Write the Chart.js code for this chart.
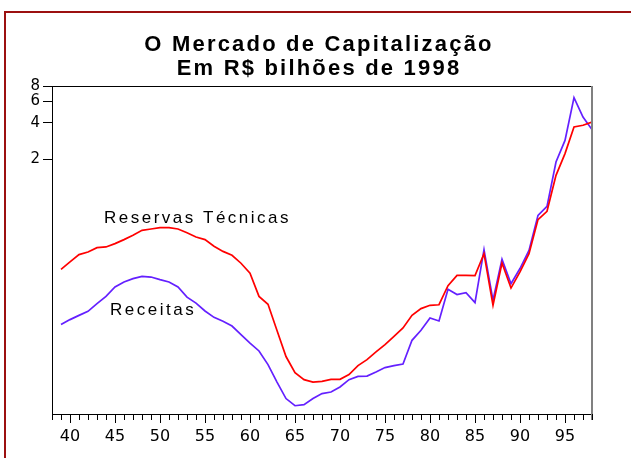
<!DOCTYPE html>
<html>
<head>
<meta charset="utf-8">
<script src="https://cdn.jsdelivr.net/npm/chart.js@4.4.1/dist/chart.umd.min.js"></script>
<style>
  html, body { margin: 0; padding: 0; background: #fff; }
  canvas { display: block; }
</style>
</head>
<body>
<canvas id="c" width="631" height="458"></canvas>
<script>
// data (years 1939-1998, R$ bilhões de 1998, log scale)
const years = [39, 40, 41, 42, 43, 44, 45, 46, 47, 48, 49, 50, 51, 52, 53, 54, 55, 56, 57, 58,
  59, 60, 61, 62, 63, 64, 65, 66, 67, 68, 69, 70, 71, 72, 73, 74, 75, 76, 77, 78,
  79, 80, 81, 82, 83, 84, 85, 86, 87, 88, 89, 90, 91, 92, 93, 94, 95, 96, 97, 98];
const reservas = [0.253, 0.291, 0.334, 0.351, 0.381, 0.386, 0.411, 0.443, 0.481, 0.528,
  0.541, 0.556, 0.556, 0.541, 0.505, 0.466, 0.443, 0.391, 0.355, 0.330,
  0.284, 0.235, 0.152, 0.131, 0.080, 0.049, 0.0362, 0.0317, 0.0303, 0.0307,
  0.0319, 0.0319, 0.0349, 0.0413, 0.0462, 0.0534, 0.0613, 0.0717, 0.0839, 0.1064,
  0.1208, 0.1286, 0.130, 0.186, 0.226, 0.226, 0.225, 0.340, 0.1286, 0.285,
  0.178, 0.241, 0.340, 0.646, 0.755, 1.487, 2.24, 3.70, 3.82, 4.06];
const receitas = [0.0894, 0.0982, 0.1064, 0.1149, 0.1328, 0.152, 0.1815, 0.1995, 0.2125, 0.222,
  0.219, 0.2086, 0.1995, 0.1815, 0.150, 0.134, 0.1155, 0.1025, 0.0951, 0.0870,
  0.074, 0.0632, 0.0544, 0.0421, 0.0303, 0.0222, 0.0194, 0.0198, 0.0222, 0.0244,
  0.0251, 0.0276, 0.0317, 0.0337, 0.0339, 0.0366, 0.0398, 0.0413, 0.0426, 0.0665,
  0.0803, 0.1013, 0.0957, 0.1738, 0.1573, 0.1633, 0.1353, 0.367, 0.1413, 0.306,
  0.193, 0.257, 0.362, 0.700, 0.830, 1.91, 2.87, 6.43, 4.46, 3.52];
const yTicks = [2, 4, 6, 8];
const titleLines = ["O Mercado de Capitalização", "Em R$ bilhões de 1998"];
const nameReservas = "Reservas Técnicas";
const nameReceitas = "Receitas";

const RED = "#ff0000";
const BLUE = "#6420ff";
const FONT = '"DejaVu Sans", sans-serif';

const toPoints = vals => years.map((yr, i) => ({ x: yr, y: vals[i] }));

// frame, title, minor/major x ticks and the in-plot series names
const decor = {
  id: "decor",
  beforeDraw(chart) {
    const ctx = chart.ctx;
    ctx.save();
    ctx.fillStyle = "#fff";
    ctx.fillRect(0, 0, chart.width, chart.height);
    ctx.restore();
  },
  afterDraw(chart) {
    const { ctx, chartArea: a, scales: { x } } = chart;
    ctx.save();

    // outer frame (only top and left edges show)
    ctx.strokeStyle = "#9c1010";
    ctx.lineWidth = 2;
    ctx.beginPath();
    ctx.moveTo(5, chart.height);
    ctx.lineTo(5, 12);
    ctx.lineTo(chart.width, 12);
    ctx.stroke();

    // plot frame: top black, right grey
    ctx.strokeStyle = "#000";
    ctx.lineWidth = 1;
    ctx.beginPath();
    ctx.moveTo(a.left, a.top + 0.5);
    ctx.lineTo(a.right, a.top + 0.5);
    ctx.stroke();
    ctx.strokeStyle = "#808080";
    ctx.lineWidth = 2;
    ctx.beginPath();
    ctx.moveTo(a.right, a.top);
    ctx.lineTo(a.right, a.bottom + 6);
    ctx.stroke();

    // year ticks under the axis
    ctx.strokeStyle = "#000";
    ctx.lineWidth = 1;
    ctx.beginPath();
    for (let v = x.min; v <= x.max; v++) {
      const px = Math.round(x.getPixelForValue(v)) + 0.5;
      const len = v % 5 === 0 ? 9 : 6;
      ctx.moveTo(px, a.bottom);
      ctx.lineTo(px, a.bottom + len);
    }
    ctx.stroke();

    // title
    ctx.fillStyle = "#000";
    ctx.textAlign = "center";
    ctx.textBaseline = "alphabetic";
    ctx.font = 'bold 22px "Liberation Sans", Arial, sans-serif';
    ctx.letterSpacing = "2.2px";
    ctx.fillText(titleLines[0], 319, 51);
    ctx.fillText(titleLines[1], 319, 75);

    // series names
    ctx.textAlign = "left";
    ctx.font = '17px "Liberation Sans", Arial, sans-serif';
    ctx.letterSpacing = "2.5px";
    ctx.fillText(nameReservas, 104, 223);
    ctx.fillText(nameReceitas, 110, 315);
    ctx.restore();
  }
};

new Chart(document.getElementById("c"), {
  type: "line",
  data: {
    datasets: [
      { label: nameReservas, data: toPoints(reservas), borderColor: RED, borderWidth: 1.7 },
      { label: nameReceitas, data: toPoints(receitas), borderColor: BLUE, borderWidth: 1.7 }
    ]
  },
  options: {
    responsive: false,
    devicePixelRatio: 1,
    animation: false,
    elements: { point: { radius: 0 }, line: { tension: 0, fill: false } },
    layout: { padding: { left: 0, top: 86, right: 39, bottom: 0 } },
    plugins: { legend: { display: false }, title: { display: false }, tooltip: { enabled: false } },
    scales: {
      x: {
        type: "linear",
        min: 38,
        max: 98,
        afterFit: s => { s.height = 44; },
        grid: { drawOnChartArea: false, drawTicks: false },
        border: { display: true, color: "#000", width: 1 },
        ticks: {
          stepSize: 1,
          autoSkip: false,
          maxRotation: 0,
          padding: 13,
          color: "#000",
          font: { family: FONT, size: 16 },
          callback: v => (v % 5 === 0 ? String(v) : "")
        }
      },
      y: {
        type: "logarithmic",
        min: 0.0166,
        max: 8,
        afterFit: s => { s.width = 52; },
        afterBuildTicks: s => { s.ticks = yTicks.map(v => ({ value: v })); },
        grid: { drawOnChartArea: false, drawTicks: true, tickLength: 9, color: "#000" },
        border: { display: true, color: "#000", width: 1 },
        ticks: {
          padding: 3,
          color: "#000",
          font: { family: FONT, size: 15 },
          callback: v => String(v)
        }
      }
    }
  },
  plugins: [decor]
});
</script>
</body>
</html>
